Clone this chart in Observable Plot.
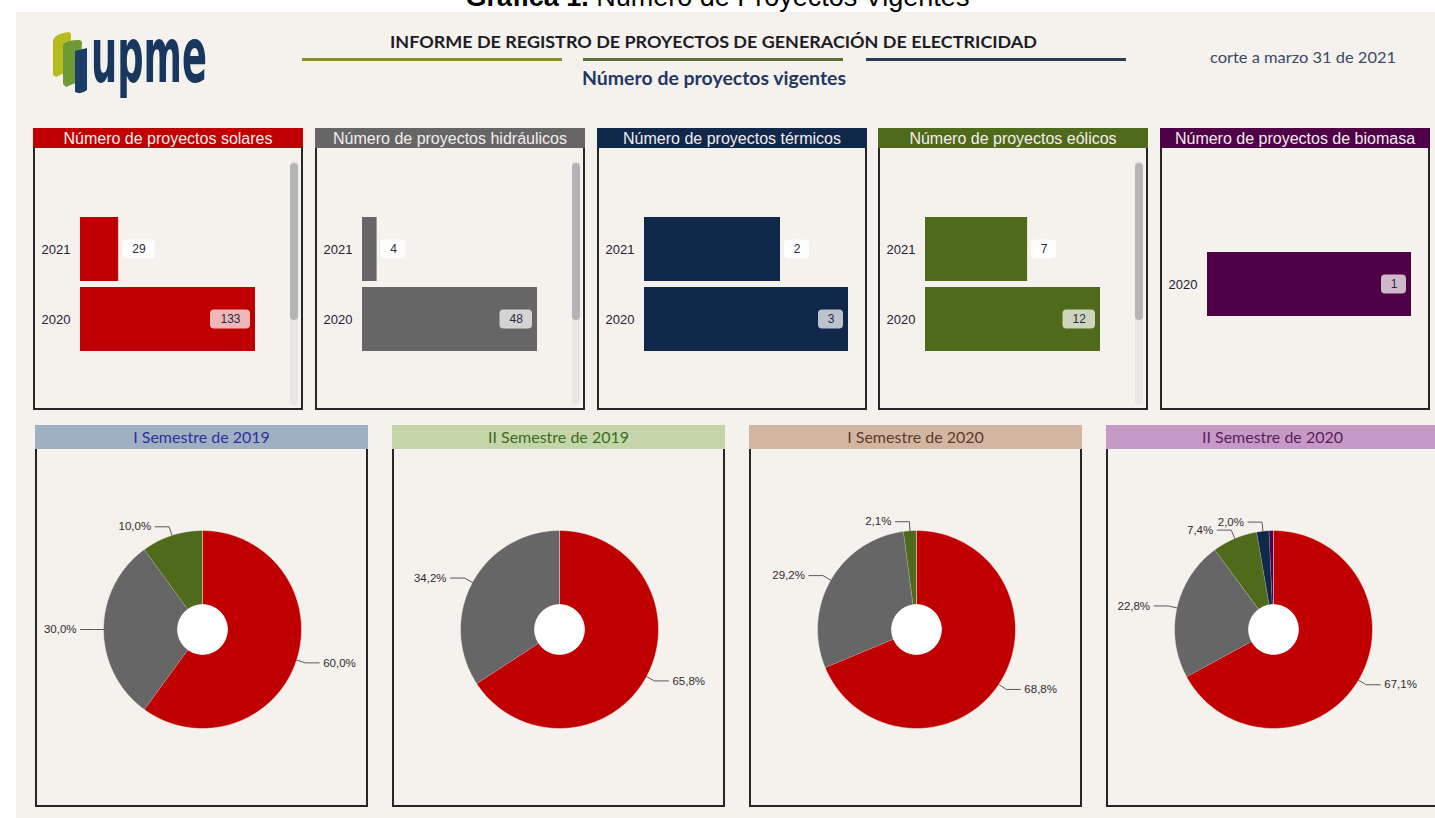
<!DOCTYPE html>
<html><head><meta charset="utf-8">
<script src="https://cdn.jsdelivr.net/npm/d3@7"></script>
<script src="https://cdn.jsdelivr.net/npm/@observablehq/plot@0.6"></script>
<style>
html,body{margin:0;padding:0;background:#fff;width:1435px;height:818px;overflow:hidden;font-family:"Liberation Sans",Arial,sans-serif;}
#caption{position:absolute;left:0;width:1435px;top:-16px;text-align:center;font-size:27px;line-height:27px;color:#000;white-space:nowrap;z-index:0;}
#board{position:absolute;left:16px;top:12px;width:1419px;height:806px;background:#f5f1ed;z-index:1;}
#head{position:absolute;left:0;top:0;z-index:2;}
.panel{position:absolute;z-index:2;}
.hdr{position:absolute;left:0;top:0;right:0;text-align:center;white-space:nowrap;overflow:hidden;}
.bd{position:absolute;background:#262626;}
.plotbox{position:absolute;left:0;}
.track{position:absolute;background:#e9e6e3;border-radius:4px;}
.thumb{position:absolute;background:#b4b4b4;border-radius:4px;}
</style></head><body>
<div id="caption"><b>Gráfica 1.</b> Número de Proyectos Vigentes</div>
<div id="board"></div>
<svg id="head" width="1435" height="110" xmlns="http://www.w3.org/2000/svg">
  <path d="M53,40 Q56,33 69,32 L71,34 L70,70 L56,77 L53,75 Z" fill="#b4bc1f"/>
  <path d="M63,45 Q66,40 80,40 L82,42 L80,81 L66,87 L63,84 Z" fill="#6d9a35"/>
  <path d="M75,51 L87,48 L87,90 Q81,95 75,92 Z" fill="#1a3d6a"/>
  <text x="91" y="82" font-family="'DejaVu Sans'" font-weight="bold" font-size="77" fill="#17375e" textLength="116" lengthAdjust="spacingAndGlyphs">upme</text>
  <text x="713.5" y="47.5" text-anchor="middle" font-family="Lato" font-weight="bold" font-size="17" fill="#1c1c26" textLength="647" lengthAdjust="spacingAndGlyphs">INFORME DE REGISTRO DE PROYECTOS DE GENERACIÓN DE ELECTRICIDAD</text>
  <rect x="302" y="58" width="260" height="3" fill="#8a8a36"/>
  <rect x="583" y="58" width="260" height="3" fill="#5c6f36"/>
  <rect x="866" y="58" width="260" height="3" fill="#2c3a56"/>
  <text x="714" y="85" text-anchor="middle" font-family="Lato" font-weight="bold" font-size="18" fill="#1f3864" textLength="264" lengthAdjust="spacingAndGlyphs">Número de proyectos vigentes</text>
  <text x="1210" y="63" font-family="Lato" font-size="16" fill="#3a4a66" textLength="186" lengthAdjust="spacingAndGlyphs">corte a marzo 31 de 2021</text>
</svg>
<div id="root"></div>
<script>
// ---------------- data ----------------
const barTitles = ["Número de proyectos solares", "Número de proyectos hidráulicos", "Número de proyectos térmicos", "Número de proyectos eólicos", "Número de proyectos de biomasa"];
const solarYears = ["2021", "2020"];   const solarCounts = [29, 133];
const hidroYears = ["2021", "2020"];   const hidroCounts = [4, 48];
const termicoYears = ["2021", "2020"]; const termicoCounts = [2, 3];
const eolicoYears = ["2021", "2020"];  const eolicoCounts = [7, 12];
const biomasaYears = ["2020"];         const biomasaCounts = [1];

const semesters = ["I Semestre de 2019", "II Semestre de 2019", "I Semestre de 2020", "II Semestre de 2020"];
const pieSolar   = [60.0, 65.8, 68.8, 67.1];
const pieHidro   = [30.0, 34.2, 29.2, 22.8];
const pieEolico  = [10.0, 0, 2.1, 7.4];
const pieTermico = [0, 0, 0, 2.0];
const pieBiomasa = [0, 0, 0, 0.7];

// ---------------- styles ----------------
const C = {solar: "#c00000", hidro: "#666666", termico: "#10284a", eolico: "#4f6a1b", biomasa: "#4f0046"};
const barColors = [C.solar, C.hidro, C.termico, C.eolico, C.biomasa];
const barScroll = [true, true, false, true, false];
const pieColors = [C.solar, C.hidro, C.eolico, C.termico, C.biomasa];
const semHeaderBg = ["#9fb0c2", "#c4d5a9", "#d3b6a1", "#c69ac6"];
const semHeaderFg = ["#2f2f9c", "#3f6b1f", "#5b3b2b", "#5b215b"];
const BG = "#f5f1ed";

const root = document.getElementById("root");
function el(tag, cls, style, parent) {
  const e = document.createElement(tag);
  if (cls) e.className = cls;
  Object.assign(e.style, style || {});
  (parent || root).appendChild(e);
  return e;
}

function barChart(years, counts, color, scroll) {
  const data = years.map((y, i) => ({year: y, value: counts[i]}));
  const max = d3.max(counts);
  const W = 270, H = 261, step = 70, pad = 6 / 70, c = 135.5;
  const L = step * (years.length + pad);
  const bw = step * (1 - pad);
  const marks = [Plot.barX(data, {y: "year", x: "value", fill: color})];
  for (const d of data) {
    const inside = d.value === max;
    const w = 17.5 + 7.5 * String(d.value).length;
    const inset = (bw - 19) / 2;
    marks.push(Plot.barX([d], {
      y: "year", x1: "value", x2: "value", fill: "#ffffff",
      fillOpacity: inside ? 0.72 : 0.88, rx: 4,
      insetTop: inset, insetBottom: inset,
      insetLeft: inside ? -(5 + w) : 4, insetRight: inside ? 5 : -(4 + w)
    }));
    marks.push(Plot.text([d], {
      y: "year", x: "value", text: dd => String(dd.value),
      dx: inside ? -(5 + w / 2) : 4 + w / 2, fontSize: 12, fill: "#2b2b3b"
    }));
  }
  return Plot.plot({
    width: W, height: H, marginLeft: 47, marginRight: scroll ? 48 : 19, marginTop: 0, marginBottom: 0,
    style: {background: "transparent", fontFamily: "'Liberation Sans', Arial, sans-serif", fontSize: "13px", color: "#22222e", overflow: "visible"},
    x: {domain: [0, max], axis: null},
    y: {domain: years, range: [c - L / 2, c + L / 2], padding: pad, tickSize: 0, tickPadding: 10, label: null},
    marks
  });
}

function pieChart(values) {
  const W = 333, H = 357, cx = 167, cy = 180, R = 99, rIn = 25 / 99;
  const total = d3.sum(values);
  const slices = [];
  let acc = 0;
  values.forEach((v, k) => {
    if (v > 0) {
      const a0 = acc / total * 2 * Math.PI; acc += v;
      const a1 = acc / total * 2 * Math.PI;
      slices.push({k, v, a0, a1});
    }
  });
  const marks = [];
  for (const s of slices) {
    const n = Math.max(2, Math.ceil((s.a1 - s.a0) / (Math.PI / 180)));
    const pts = [];
    for (let j = 0; j <= n; j++) { const t = s.a0 + (s.a1 - s.a0) * j / n; pts.push({x: Math.sin(t), y: Math.cos(t)}); }
    for (let j = n; j >= 0; j--) { const t = s.a0 + (s.a1 - s.a0) * j / n; pts.push({x: rIn * Math.sin(t), y: rIn * Math.cos(t)}); }
    marks.push(Plot.line(pts, {x: "x", y: "y", fill: pieColors[s.k], stroke: BG, strokeWidth: 0.5}));
  }
  marks.push(Plot.dot([{x: 0, y: 0}], {x: "x", y: "y", r: R * rIn, fill: "#ffffff", stroke: "none"}));
  const lead = [], labs = [];
  slices.filter(s => s.v >= 1).forEach((s, i) => {
    const m = (s.a0 + s.a1) / 2;
    const side = Math.sin(m) >= 0 ? 1 : -1;
    const e = 1 + 9 / R;
    const ex = e * Math.sin(m), ey = e * Math.cos(m);
    lead.push({id: i, x: Math.sin(m), y: Math.cos(m)}, {id: i, x: ex, y: ey}, {id: i, x: ex + side * 14 / R, y: ey});
    labs.push({x: ex + side * 14 / R, y: ey, side, label: s.v.toFixed(1).replace(".", ",") + "%"});
  });
  marks.push(Plot.line(lead, {x: "x", y: "y", z: "id", stroke: "#5a5a5a", strokeWidth: 1}));
  marks.push(Plot.text(labs.filter(d => d.side > 0), {x: "x", y: "y", text: "label", textAnchor: "start", dx: 4, fontSize: 11.5, fill: "#2e2e2e"}));
  marks.push(Plot.text(labs.filter(d => d.side < 0), {x: "x", y: "y", text: "label", textAnchor: "end", dx: -4, fontSize: 11.5, fill: "#2e2e2e"}));
  return Plot.plot({
    width: W, height: H, margin: 0,
    style: {background: "transparent", fontFamily: "'Liberation Sans', Arial, sans-serif", overflow: "visible"},
    x: {domain: [-cx / R, (W - cx) / R], range: [0, W], axis: null},
    y: {domain: [-(H - cy) / R, cy / R], range: [H, 0], axis: null},
    marks
  });
}

// ---------------- bar panels ----------------
const barSets = [[solarYears, solarCounts], [hidroYears, hidroCounts], [termicoYears, termicoCounts], [eolicoYears, eolicoCounts], [biomasaYears, biomasaCounts]];
barSets.forEach(([yrs, cnt], i) => {
  const left = Math.round(33 + i * 281.75);
  const p = el("div", "panel", {left: left + "px", top: "128px", width: "270px", height: "282px"});
  const h = el("div", "hdr", {height: "20px", lineHeight: "21px", background: barColors[i], color: "#f3eeee", fontSize: "16px"}, p);
  h.textContent = barTitles[i];
  if (barScroll[i]) {
    el("div", "track", {left: "257px", top: "33px", width: "8px", height: "244px"}, p);
    el("div", "thumb", {left: "257px", top: "35px", width: "8px", height: "157px"}, p);
  }
  const box = el("div", "plotbox", {top: "20px"}, p);
  box.appendChild(barChart(yrs, cnt, barColors[i], barScroll[i]));
  el("div", "bd", {left: "0px", top: "20px", width: "2px", height: "262px"}, p);
  el("div", "bd", {left: "268px", top: "20px", width: "2px", height: "262px"}, p);
  el("div", "bd", {left: "0px", top: "280px", width: "270px", height: "2px"}, p);
});

// ---------------- pie panels ----------------
semesters.forEach((sem, i) => {
  const left = 35 + i * 357;
  const p = el("div", "panel", {left: left + "px", top: "425px", width: "333px", height: "382px"});
  const h = el("div", "hdr", {height: "24px", lineHeight: "24px", background: semHeaderBg[i], color: semHeaderFg[i], fontSize: "16px", fontFamily: "Lato, sans-serif"}, p);
  h.textContent = sem;
  const box = el("div", "plotbox", {top: "24px"}, p);
  box.appendChild(pieChart([pieSolar[i], pieHidro[i], pieEolico[i], pieTermico[i], pieBiomasa[i]]));
  el("div", "bd", {left: "0px", top: "24px", width: "2px", height: "358px"}, p);
  el("div", "bd", {left: "331px", top: "24px", width: "2px", height: "358px"}, p);
  el("div", "bd", {left: "0px", top: "380px", width: "333px", height: "2px"}, p);
});
</script>
</body></html>
